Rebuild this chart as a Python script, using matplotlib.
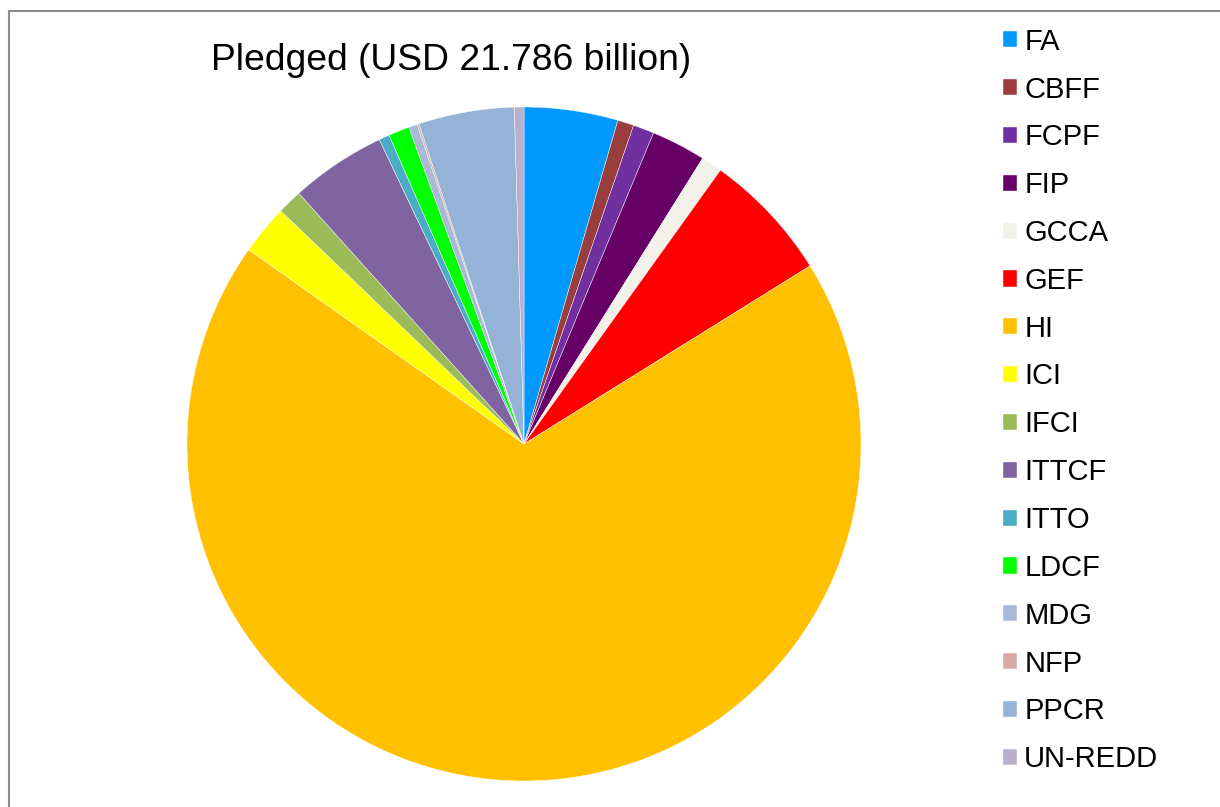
import numpy as np
import matplotlib.pyplot as plt
from matplotlib.patches import Rectangle

plt.rcParams['font.family'] = ['Liberation Sans', 'DejaVu Sans']

# pledged amounts, USD billion
funds = ['FA', 'CBFF', 'FCPF', 'FIP', 'GCCA', 'GEF', 'HI', 'ICI', 'IFCI',
         'ITTCF', 'ITTO', 'LDCF', 'MDG', 'NFP', 'PPCR', 'UN-REDD']
pledged = [0.98, 0.17, 0.22, 0.57, 0.22, 1.36, 14.97, 0.52, 0.26,
           1.00, 0.11, 0.22, 0.09, 0.02, 1.00, 0.10]
colors = ['#0099FF', '#993E3C', '#7030A0', '#660066', '#F2F2EA', '#FF0000',
          '#FFC000', '#FFFF00', '#9BBB59', '#8064A2', '#4BACC6', '#00FF00',
          '#AAB9D8', '#D9A9A8', '#95B3D7', '#B9AFCB']

fig = plt.figure(figsize=(12.2, 8.07), dpi=100)

# grey frame (only top/left visible in the original)
fig.patches.append(Rectangle((9 / 1220, -0.1), 1.2, (807 - 11) / 807 + 0.1,
                             transform=fig.transFigure, fill=False,
                             edgecolor='#8C8C8C', linewidth=1.5))

ax = fig.add_axes([187 / 1220, 26 / 807, 674 / 1220, 674 / 807])
wedges, _ = ax.pie(pledged, colors=colors, startangle=90, counterclock=False,
                   wedgeprops=dict(edgecolor='white', linewidth=0.3))
ax.set_xlim(-1, 1)
ax.set_ylim(-1, 1)
ax.set_aspect('equal')

fig.text(451 / 1220, 1 - 61 / 807, 'Pledged (USD 21.786 billion)',
         ha='center', va='center', fontsize=26.8)

fig.legend(wedges, funds, loc='upper left', bbox_to_anchor=(991 / 1220, 1 - 16 / 807),
           frameon=False, fontsize=21, handlelength=0.48, handleheight=0.48,
           handletextpad=0.26, labelspacing=0.68, borderaxespad=0)

fig.savefig('out.png', dpi=100)
